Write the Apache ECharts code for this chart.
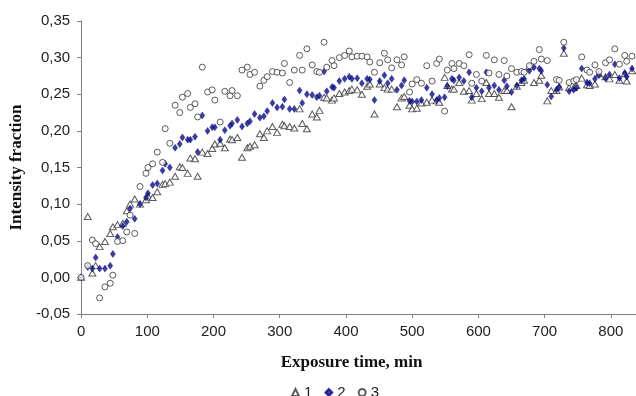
<!DOCTYPE html>
<html>
<head>
<meta charset="utf-8">
<script src="https://cdn.jsdelivr.net/npm/echarts@6/dist/echarts.min.js"></script>
<style>
  html, body { margin: 0; padding: 0; background: #fff; }
  #main { width: 636px; height: 396px; }
</style>
</head>
<body>
<div id="main"></div>
<script>
// exposure time, min (shared sampling points)
var time = [
  0, 10, 17, 22, 28, 36, 44, 48, 55, 63,
  69, 74, 81, 89, 98, 101, 108, 115, 123, 127,
  134, 142, 149, 153, 161, 165, 172, 176, 183, 191,
  198, 202, 210, 217, 225, 228, 236, 243, 251, 255,
  262, 270, 276, 281, 289, 296, 304, 307, 315, 322,
  330, 334, 341, 349, 356, 360, 367, 371, 379, 382,
  390, 398, 405, 409, 417, 424, 432, 436, 443, 451,
  458, 463, 469, 477, 484, 488, 496, 500, 507, 514,
  522, 530, 537, 541, 549, 553, 560, 563, 571, 578,
  586, 590, 597, 605, 612, 616, 624, 631, 639, 643,
  650, 658, 665, 669, 677, 684, 692, 695, 704, 710,
  718, 722, 729, 737, 744, 748, 756, 764, 768, 776,
  782, 792, 798, 806, 813, 821, 824, 832
];

// series 1 (triangles)
var fraction1 = [
  0.000, 0.083, 0.006, 0.016, 0.042, 0.049, 0.060, 0.069, 0.072, 0.074,
  0.091, 0.100, 0.107, 0.100, 0.106, 0.111, 0.109, 0.117, 0.127, 0.128,
  0.130, 0.138, 0.151, 0.150, 0.142, 0.163, 0.162, 0.138, 0.171, 0.169,
  0.176, 0.182, 0.183, 0.177, 0.189, 0.188, 0.191, 0.164, 0.177, 0.179,
  0.181, 0.196, 0.191, 0.200, 0.206, 0.198, 0.209, 0.207, 0.206, 0.204,
  0.230, 0.210, 0.203, 0.223, 0.219, 0.228, 0.246, 0.245, 0.242, 0.245,
  0.251, 0.253, 0.255, 0.257, 0.256, 0.250, 0.261, 0.264, 0.223, 0.264,
  0.259, 0.257, 0.257, 0.233, 0.245, 0.247, 0.235, 0.230, 0.231, 0.238,
  0.239, 0.242, 0.241, 0.239, 0.273, 0.262, 0.257, 0.257, 0.266, 0.254,
  0.255, 0.242, 0.251, 0.244, 0.266, 0.251, 0.251, 0.246, 0.255, 0.255,
  0.233, 0.261, 0.266, 0.269, 0.288, 0.266, 0.269, 0.276, 0.241, 0.255,
  0.255, 0.260, 0.306, 0.259, 0.259, 0.262, 0.272, 0.263, 0.262, 0.264,
  0.278, 0.274, 0.271, 0.277, 0.269, 0.278, 0.268, 0.282
];

// series 2 (diamonds)
var fraction2 = [
  0.000, 0.014, 0.012, 0.027, 0.012, 0.012, 0.016, 0.032, 0.055, 0.070,
  0.076, 0.094, 0.080, 0.100, 0.109, 0.115, 0.126, 0.128, 0.146, 0.155,
  0.150, 0.177, 0.182, 0.191, 0.188, 0.188, 0.192, 0.171, 0.221, 0.200,
  0.205, 0.205, 0.188, 0.201, 0.207, 0.210, 0.215, 0.206, 0.210, 0.213,
  0.223, 0.218, 0.220, 0.227, 0.238, 0.232, 0.233, 0.243, 0.230, 0.230,
  0.255, 0.238, 0.250, 0.249, 0.246, 0.248, 0.281, 0.254, 0.260, 0.259,
  0.268, 0.271, 0.274, 0.271, 0.272, 0.265, 0.271, 0.270, 0.242, 0.268,
  0.276, 0.265, 0.271, 0.256, 0.262, 0.269, 0.241, 0.240, 0.240, 0.242,
  0.259, 0.250, 0.242, 0.245, 0.246, 0.261, 0.271, 0.269, 0.273, 0.268,
  0.280, 0.246, 0.259, 0.254, 0.280, 0.259, 0.262, 0.256, 0.269, 0.261,
  0.253, 0.262, 0.269, 0.271, 0.282, 0.287, 0.285, 0.282, 0.263, 0.247,
  0.256, 0.260, 0.313, 0.254, 0.256, 0.259, 0.285, 0.266, 0.265, 0.271,
  0.276, 0.272, 0.277, 0.291, 0.272, 0.279, 0.274, 0.285
];

// series 3 (circles)
var fraction3 = [
  0.000, 0.016, 0.051, 0.046, -0.028, -0.013, -0.008, 0.003, 0.049, 0.050,
  0.062, 0.085, 0.060, 0.124, 0.142, 0.150, 0.155, 0.171, 0.157, 0.203,
  0.183, 0.235, 0.225, 0.246, 0.251, 0.232, 0.237, 0.219, 0.287, 0.253,
  0.256, 0.242, 0.212, 0.254, 0.248, 0.255, 0.248, 0.283, 0.287, 0.277,
  0.280, 0.261, 0.269, 0.274, 0.281, 0.280, 0.279, 0.292, 0.266, 0.283,
  0.303, 0.283, 0.312, 0.290, 0.281, 0.280, 0.321, 0.287, 0.296, 0.289,
  0.300, 0.303, 0.309, 0.301, 0.302, 0.302, 0.301, 0.294, 0.280, 0.293,
  0.306, 0.297, 0.286, 0.297, 0.290, 0.301, 0.253, 0.264, 0.270, 0.265,
  0.289, 0.268, 0.292, 0.298, 0.227, 0.283, 0.292, 0.285, 0.292, 0.289,
  0.304, 0.265, 0.277, 0.268, 0.303, 0.279, 0.297, 0.277, 0.296, 0.275,
  0.285, 0.280, 0.281, 0.280, 0.289, 0.295, 0.311, 0.298, 0.296, null,
  0.270, 0.269, 0.321, 0.266, 0.268, 0.270, 0.301, 0.283, 0.280, 0.290,
  0.281, 0.293, 0.297, 0.312, 0.291, 0.303, 0.295, 0.302
];

var yTicks = { min: -0.05, max: 0.35, step: 0.05 };
var xTicks = { min: 0, max: 838, step: 100 };

function pairs(vals) {
  var out = [];
  for (var i = 0; i < time.length; i++) {
    if (vals[i] != null) out.push([time[i], vals[i]]);
  }
  return out;
}

var myChart = echarts.init(document.getElementById('main'));

var sansFont = '"Liberation Sans", Arial, sans-serif';
var serifFont = '"Liberation Serif", "Times New Roman", serif';

myChart.setOption({
  animation: false,
  grid: { left: 80, right: 0, top: 21, bottom: 82 },
  legend: {
    left: 291,
    top: 385,
    padding: 0,
    itemWidth: 7,
    itemHeight: 7,
    itemGap: 12,
    data: ['1', '2', '3'],
    textStyle: { fontFamily: sansFont, fontSize: 15, color: '#222' }
  },
  xAxis: {
    type: 'value',
    min: xTicks.min,
    max: xTicks.max,
    interval: xTicks.step,
    name: 'Exposure time, min',
    nameLocation: 'middle',
    nameGap: 40,
    nameTextStyle: {
      fontFamily: serifFont, fontSize: 17, fontWeight: 'bold', color: '#111',
      padding: [0, 14, 0, 0]
    },
    axisLine: { onZero: false, lineStyle: { color: '#808080', width: 1 } },
    axisTick: { length: 4, lineStyle: { color: '#808080' } },
    axisLabel: {
      margin: 10, fontFamily: sansFont, fontSize: 15, color: '#222',
      showMaxLabel: false
    },
    splitLine: { show: false }
  },
  yAxis: {
    type: 'value',
    min: yTicks.min,
    max: yTicks.max,
    interval: yTicks.step,
    name: 'Intensity fraction',
    nameLocation: 'middle',
    nameGap: 54,
    nameTextStyle: { fontFamily: serifFont, fontSize: 17, fontWeight: 'bold', color: '#111' },
    axisLine: { show: true, lineStyle: { color: '#808080', width: 1 } },
    axisTick: { show: true, length: 4, lineStyle: { color: '#808080' } },
    axisLabel: {
      margin: 11, fontFamily: sansFont, fontSize: 15, color: '#222',
      formatter: function (v) { return v.toFixed(2).replace('.', ','); }
    },
    splitLine: { show: false }
  },
  series: [
    {
      name: '1',
      type: 'scatter',
      symbol: 'triangle',
      symbolSize: [7, 6],
      itemStyle: { color: '#fff', borderColor: '#333', borderWidth: 1 },
      data: pairs(fraction1)
    },
    {
      name: '2',
      type: 'scatter',
      symbol: 'diamond',
      symbolSize: [5, 7],
      itemStyle: { color: '#0a0a8a', borderColor: '#0a0a8a', borderWidth: 0.5 },
      data: pairs(fraction2)
    },
    {
      name: '3',
      type: 'scatter',
      symbol: 'circle',
      symbolSize: 6,
      itemStyle: { color: '#fff', borderColor: '#333', borderWidth: 1 },
      data: pairs(fraction3)
    }
  ]
});
</script>
</body>
</html>
